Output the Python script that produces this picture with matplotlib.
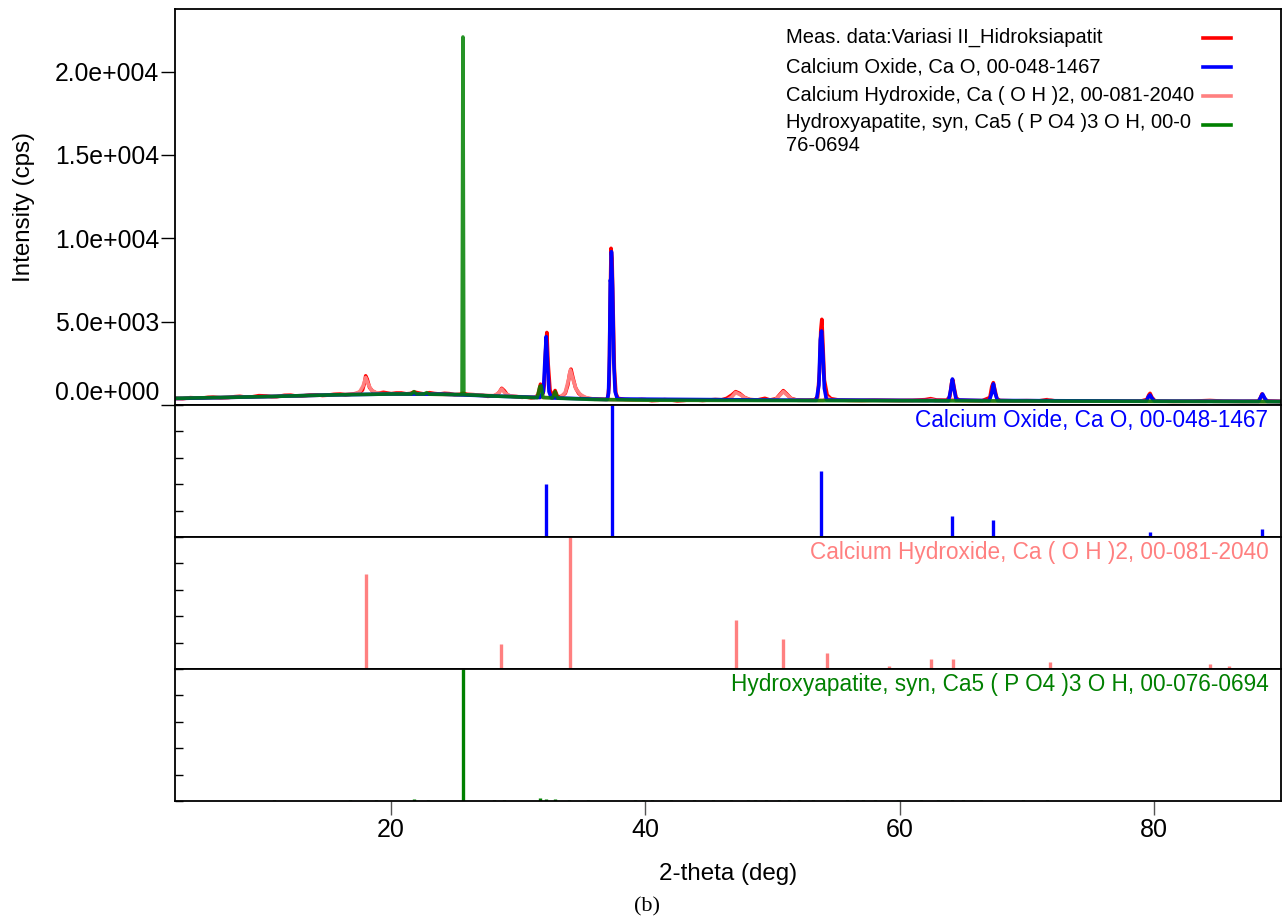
import matplotlib
matplotlib.use('Agg')
import matplotlib.pyplot as plt

plt.rcParams['font.family'] = ['Liberation Sans', 'DejaVu Sans']

# Measured pattern (2-theta, cps)
meas_tt = [3.0, 3.6, 4.2, 4.7, 5.1, 5.6, 6.0, 6.6, 7.2, 7.7, 8.1, 8.6, 9.0, 9.6, 10.2, 10.6,
           11.0, 11.6, 12.1, 12.5, 13.0, 13.6, 14.2, 14.6, 15.0, 15.5, 16.0, 16.4, 16.8,
           17.3, 17.55, 17.75, 17.9, 18.0, 18.12, 18.3, 18.55, 18.9, 19.4, 20.0, 20.4, 20.8,
           21.2, 21.5, 21.8, 22.3, 22.7, 23.0, 23.4, 23.8, 24.2, 24.6, 25.0, 25.4, 25.65,
           26.0, 26.5, 26.9, 27.2, 27.6, 28.0, 28.3, 28.5, 28.7, 28.9, 29.15, 29.5, 29.9,
           30.3, 30.6, 31.0, 31.3, 31.55, 31.75, 31.95, 32.05, 32.15, 32.25, 32.35, 32.5,
           32.7, 32.9, 33.1, 33.4, 33.7, 33.9, 34.05, 34.15, 34.3, 34.5, 34.75, 35.1, 35.6,
           36.3, 36.9, 37.05, 37.15, 37.22, 37.3, 37.38, 37.46, 37.56, 37.68, 37.85, 38.4,
           39.2, 39.7, 40.0, 40.5, 41.0, 41.5, 42.0, 42.5, 43.0, 43.5, 44.0, 44.5, 45.0,
           45.5, 46.0, 46.4, 46.8, 47.1, 47.4, 47.8, 48.2, 48.8, 49.4, 49.8, 50.3, 50.6,
           50.85, 51.1, 51.45, 51.9, 52.6, 53.3, 53.55, 53.7, 53.8, 53.88, 53.97, 54.08,
           54.3, 54.6, 55.2, 56.0, 57.0, 58.0, 59.0, 60.0, 61.0, 62.0, 62.45, 62.9, 63.7,
           63.95, 64.08, 64.18, 64.3, 64.45, 64.7, 65.5, 66.5, 67.1, 67.25, 67.37, 67.5,
           67.65, 67.9, 69.0, 70.0, 71.0, 71.6, 72.2, 73.5, 75.0, 76.5, 77.8, 79.0, 79.45,
           79.6, 79.7, 79.85, 80.1, 81.5, 83.0, 84.4, 85.5, 87.0, 88.2, 88.38, 88.5, 88.62,
           88.8, 89.0, 90.0]
meas_int = [400, 380, 440, 420, 410, 460, 470, 430, 450, 500, 520, 470, 480, 560, 540, 500,
            500, 580, 590, 540, 540, 600, 610, 570, 590, 640, 660, 610, 640,
            700, 760, 900, 1300, 1750, 1550, 1050, 820, 700, 760, 680, 720, 720,
            670, 690, 780, 700, 650, 740, 690, 660, 700, 680, 620, 640, 700,
            640, 620, 590, 580, 520, 540, 600, 760, 1000, 860, 600, 520, 500,
            460, 480, 430, 450, 600, 1250, 700, 1200, 3200, 4350, 2500, 900,
            500, 870, 480, 520, 700, 1200, 1900, 2150, 1650, 1050, 700, 480, 380,
            360, 340, 450, 1200, 5500, 9400, 8800, 6000, 2200, 700, 400, 330,
            300, 330, 320, 260, 280, 320, 300, 250, 270, 310, 300, 270, 300,
            330, 310, 400, 600, 800, 700, 450, 330, 300, 400, 300, 380, 650,
            860, 680, 400, 300, 290, 310, 480, 2000, 4500, 5140, 3600, 1500,
            600, 380, 300, 280, 270, 290, 280, 270, 280, 320, 380, 300, 290,
            500, 1300, 1520, 1000, 420, 290, 270, 260, 450, 1100, 1340, 900,
            380, 270, 250, 260, 250, 320, 250, 240, 250, 240, 230, 240, 330,
            600, 700, 450, 240, 220, 230, 270, 230, 220, 230, 420, 660, 520,
            300, 240, 220]

# Calcium hydroxide profile
caoh_tt = [3.0, 10.0, 15.0, 17.2, 17.55, 17.8, 18.0, 18.2, 18.45, 18.8, 19.3, 22.0, 26.0,
           28.1, 28.45, 28.7, 28.95, 29.3, 30.0, 33.3, 33.7, 33.95, 34.1, 34.3, 34.55, 34.9,
           35.3, 36.0, 40.0, 46.4, 46.8, 47.1, 47.45, 47.85, 48.3, 50.2, 50.55, 50.85, 51.15,
           51.5, 52.0, 54.0, 54.3, 54.6, 62.2, 62.5, 62.8, 63.9, 64.15, 64.4, 71.5, 71.8, 72.1,
           84.1, 84.4, 84.7, 90.0]
caoh_int = [390, 500, 600, 660, 820, 1150, 1650, 1250, 900, 740, 680, 660, 610,
            560, 720, 960, 720, 560, 500, 420, 760, 1500, 2100, 1550, 950, 620,
            450, 340, 290, 290, 480, 750, 620, 420, 300, 300, 560, 800, 600, 360,
            280, 280, 450, 290, 260, 320, 260, 260, 330, 260, 240, 290, 240,
            220, 240, 220, 200]

# Calcium oxide profile
cao_tt = [3.0, 10.0, 15.0, 20.0, 24.0, 28.0, 31.7, 31.98, 32.1, 32.2, 32.3, 32.42, 32.6,
          37.0, 37.1, 37.18, 37.24, 37.28, 37.33, 37.42, 37.52, 37.62, 37.8, 53.45, 53.65,
          53.76, 53.86, 53.97, 54.08, 54.25, 63.85, 64.02, 64.15, 64.3, 64.45, 67.05, 67.24,
          67.38, 67.52, 67.7, 79.4, 79.58, 79.7, 79.85, 80.05, 88.25, 88.42, 88.55, 88.72,
          88.9, 90.0]
cao_int = [390, 500, 600, 660, 650, 540, 450, 800, 2700, 4100, 2600, 800, 430,
           330, 700, 3000, 7500, 7400, 9200, 7000, 2500, 800, 360, 280, 1200,
           3900, 4440, 3000, 1000, 300, 260, 900, 1560, 900, 300, 260, 700,
           1270, 700, 270, 230, 500, 600, 400, 230, 220, 500, 660, 400,
           220, 210]

# Hydroxyapatite profile
hap_tt = [3.0, 10.0, 15.0, 20.0, 21.6, 21.8, 22.0, 22.6, 22.8, 23.0, 25.58, 25.65, 25.72,
          28.0, 31.5, 31.7, 31.8, 31.95, 32.7, 32.9, 33.1, 36.0, 40.0, 50.0, 60.0, 70.0,
          80.0, 90.0]
hap_int = [400, 500, 600, 660, 660, 800, 660, 660, 740, 650, 620, 22080, 620,
           540, 440, 1100, 1150, 450, 420, 800, 410, 330, 290, 270, 255, 240,
           220, 200]

# Reference patterns (relative intensity, %)
cao_ref_pos = [32.2, 37.35, 53.85, 64.15, 67.37, 79.66, 88.5]
cao_ref_int = [40, 100, 50, 16, 13, 4, 6]

caoh_ref_pos = [18.0, 28.66, 34.1, 36.4, 47.1, 50.8, 54.3, 55.9, 59.2, 62.5, 64.2,
                71.8, 77.5, 78.9, 81.8, 84.4, 85.9]
caoh_ref_int = [72, 19, 100, 1, 37, 23, 12.5, 1, 2, 7.5, 7.5, 5, 1, 1, 1, 3.5, 2]

hap_ref_pos = [10.8, 16.8, 18.8, 21.8, 22.9, 25.65, 28.1, 28.9, 31.75, 32.2, 32.9, 34.0,
               35.5, 39.2, 39.8, 40.5, 42.0, 43.8, 45.3, 46.7, 48.1, 48.6, 49.5, 50.5,
               51.3, 52.1, 53.2, 55.9, 57.1, 58.1, 59.9, 61.7, 63.0, 64.1, 65.0, 66.4,
               69.7, 71.6]
hap_ref_int = [0.5, 0.5, 0.5, 1.5, 0.8, 100, 0.5, 0.6, 2.5, 1.5, 1.5, 0.6,
               0.5, 0.5, 0.5, 0.5, 0.5, 0.5, 0.5, 0.6, 0.5, 0.5, 0.6, 0.5,
               0.5, 0.5, 0.6, 0.5, 0.5, 0.5, 0.5, 0.5, 0.5, 0.5, 0.5, 0.5,
               0.5, 0.5]

y_ticks = [0, 5000, 10000, 15000, 20000]
y_tick_labels = ['0.0e+000', '5.0e+003', '1.0e+004', '1.5e+004', '2.0e+004']
x_ticks = [20, 40, 60, 80]

legend_labels = ['Meas. data:Variasi II_Hidroksiapatit',
                 'Calcium Oxide, Ca O, 00-048-1467',
                 'Calcium Hydroxide, Ca ( O H )2, 00-081-2040',
                 'Hydroxyapatite, syn, Ca5 ( P O4 )3 O H, 00-0\n76-0694']
panel_labels = ['Calcium Oxide, Ca O, 00-048-1467',
                'Calcium Hydroxide, Ca ( O H )2, 00-081-2040',
                'Hydroxyapatite, syn, Ca5 ( P O4 )3 O H, 00-076-0694']

RED = '#ff0000'
BLUE = '#0000ff'
PINK = '#ff8080'
GREEN = '#008000'
LW = 2.6

W, H = 1282, 917
fig = plt.figure(figsize=(W / 100, H / 100), dpi=100)


def fig_axes(left, top, right, bottom):
    return fig.add_axes([left / W, 1 - bottom / H, (right - left) / W, (bottom - top) / H])


ax = fig_axes(175, 9, 1281, 405)
ax1 = fig_axes(175, 405, 1281, 537)
ax2 = fig_axes(175, 537, 1281, 669)
ax3 = fig_axes(175, 669, 1281, 801)

# main panel
ax.plot(meas_tt, meas_int, color=RED, lw=LW)
ax.plot(caoh_tt, caoh_int, color=PINK, lw=LW)
ax.plot(cao_tt, cao_int, color=BLUE, lw=LW)
ax.plot(hap_tt, hap_int, color=GREEN, lw=LW, alpha=0.85)
ax.set_xlim(3, 90)
ax.set_ylim(0, 23760)
ax.set_yticks(y_ticks)
ax.set_yticklabels(y_tick_labels, fontsize=17.8)
ax.get_yticklabels()[0].set_verticalalignment('bottom')
ax.tick_params(axis='y', direction='out', length=10, width=1, pad=1.5)
ax.tick_params(axis='x', bottom=False, labelbottom=False)
ax.set_ylabel('Intensity (cps)', fontsize=17.4)
ax.yaxis.set_label_coords(-(175 - 35) / 1106, 0.5)

# legend drawn by hand: text left, line handle right
colors = [RED, BLUE, PINK, GREEN]
for i, (lab, col) in enumerate(zip(legend_labels, colors)):
    yy = 0.9275 - i * 0.0732
    if '\n' in lab:
        ax.text(0.5524, yy + 0.029, lab, transform=ax.transAxes, fontsize=14.5,
                ha='left', va='top', linespacing=1.25)
    else:
        ax.text(0.5524, yy, lab, transform=ax.transAxes, fontsize=14.5,
                ha='left', va='center')
    ax.plot([0.9295, 0.9548], [yy, yy], transform=ax.transAxes, color=col, lw=2.6)

# stick panels
for a, pos, inten, col, lab in [(ax1, cao_ref_pos, cao_ref_int, BLUE, panel_labels[0]),
                                (ax2, caoh_ref_pos, caoh_ref_int, PINK, panel_labels[1]),
                                (ax3, hap_ref_pos, hap_ref_int, GREEN, panel_labels[2])]:
    a.vlines(pos, 0, inten, color=col, lw=2.4)
    a.set_xlim(3, 90)
    a.set_ylim(0, 100)
    a.set_yticks([0, 20, 40, 60, 80, 100])
    a.tick_params(axis='y', direction='in', length=6, width=1, labelleft=False)
    a.text(0.9885, 0.97, lab, transform=a.transAxes, color=col, fontsize=16.3,
           ha='right', va='top')

for a in (ax1, ax2):
    a.tick_params(axis='x', bottom=False, labelbottom=False)

ax3.set_xticks(x_ticks)
ax3.tick_params(axis='x', direction='out', length=10, width=1, color='#555555',
                labelsize=18, pad=2)

for a in (ax, ax1, ax2, ax3):
    for s in a.spines.values():
        s.set_linewidth(1.3)

fig.text(728 / W, 1 - 874 / H, '2-theta (deg)', fontsize=17.4, ha='center', va='center')
fig.text(647 / W, 1 - 907 / H, '(b)', family='Liberation Serif', fontsize=16,
         ha='center', va='center')

fig.savefig('out.png', dpi=100)
